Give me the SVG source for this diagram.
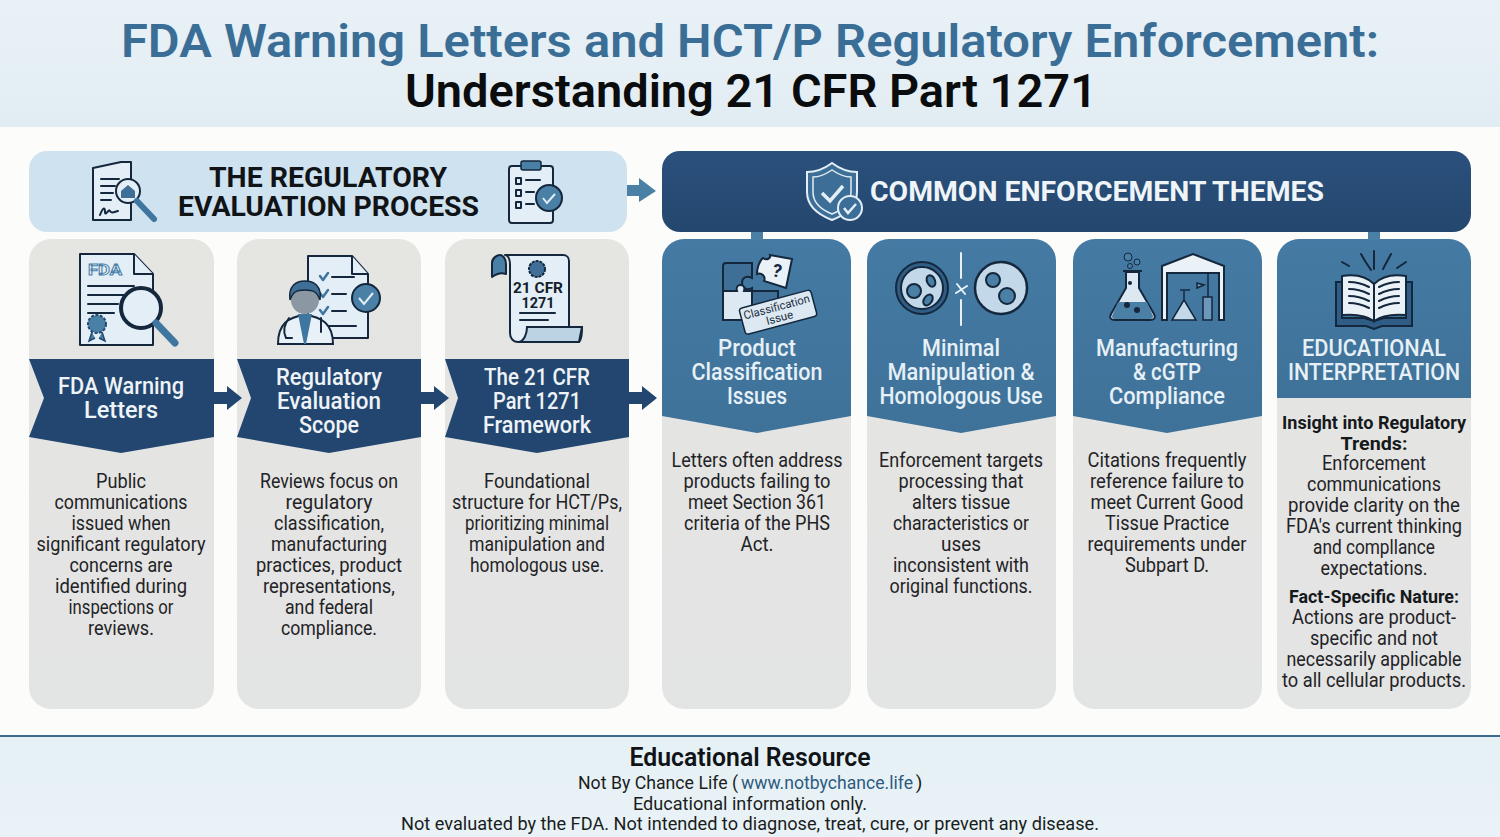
<svg xmlns="http://www.w3.org/2000/svg" width="1500" height="837" viewBox="0 0 1500 837">
<style>
text{font-family:"Roboto","Noto Sans","Liberation Sans",sans-serif;text-anchor:middle}
.body{font-size:20px;fill:#1f2326}
.bold{font-size:19px;font-weight:700;fill:#16191c}
.rib{font-size:23px;font-weight:500;fill:#eef3f7}
.tit{font-size:23px;font-weight:500;fill:#e6f0f6}
.hd{font-size:27px;font-weight:700}
.foot{font-size:19px;fill:#1a1d20}
.card{fill:url(#cardG)}
.ln{fill:none;stroke:#14273c;stroke-width:2;stroke-linecap:round;stroke-linejoin:round}
.lw{fill:none;stroke:#e8f1f7;stroke-width:2;stroke-linecap:round;stroke-linejoin:round}
.pale{fill:#e3eef6;stroke:#14273c;stroke-width:2;stroke-linejoin:round}
.mid{fill:#4a7fa6;stroke:#14273c;stroke-width:2;stroke-linejoin:round}
.ck{fill:none;stroke:#3f769f;stroke-width:2.5;stroke-linecap:round;stroke-linejoin:round}
</style>
<defs>
<linearGradient id="topG" x1="0" y1="0" x2="0" y2="1"><stop offset="0" stop-color="#e8f1f6"/><stop offset="1" stop-color="#e2edf3"/></linearGradient>
<linearGradient id="cardG" x1="0" y1="0" x2="0" y2="1"><stop offset="0" stop-color="#e5e5e2"/><stop offset="1" stop-color="#e3e4e4"/></linearGradient>
<linearGradient id="navyG" x1="0" y1="0" x2="0" y2="1"><stop offset="0" stop-color="#2a507c"/><stop offset="1" stop-color="#24476e"/></linearGradient>
<linearGradient id="blueG" x1="0" y1="0" x2="0" y2="1"><stop offset="0" stop-color="#447aa3"/><stop offset="1" stop-color="#3f7299"/></linearGradient>
<linearGradient id="footG" x1="0" y1="0" x2="0" y2="1"><stop offset="0" stop-color="#e6f1f5"/><stop offset="1" stop-color="#e9f2f6"/></linearGradient>
</defs>
<rect width="1500" height="837" fill="#fcfcfb"/>
<g id="title">
<rect width="1500" height="127" fill="url(#topG)"/>
<text x="750" y="57" font-size="46" font-weight="600" fill="#3b6e96" textLength="1258" lengthAdjust="spacingAndGlyphs">FDA Warning Letters and HCT/P Regulatory Enforcement:</text>
<text x="751" y="107" font-size="46" font-weight="600" fill="#0b0c0e" textLength="692" lengthAdjust="spacingAndGlyphs">Understanding 21 CFR Part 1271</text>
</g>
<g id="header-process">
<rect x="29" y="151" width="598" height="81" rx="18" fill="#cfe2f0"/>
<text x="328" y="187" class="hd" fill="#111417" textLength="238" lengthAdjust="spacingAndGlyphs">THE REGULATORY</text>
<text x="328.500" y="216" class="hd" fill="#111417" textLength="301" lengthAdjust="spacingAndGlyphs">EVALUATION PROCESS</text>
<path class="pale" d="M93 168l28-6h10l0 58H93z"/>
<path class="ln" d="M101 179h18M101 186h14M101 193h12M101 200h10M100 215c3-8 5-8 5-3s4-4 5-1 4 1 8 0"/>
<circle class="pale" cx="128" cy="191" r="12" stroke-width="3"/>
<path d="M121 191l7-6 7 6v7h-14z" fill="#3f6f96"/>
<path d="M137 201l17 18" stroke="#3f769f" stroke-width="6" stroke-linecap="round"/>
<rect class="pale" x="509" y="166" width="44" height="57" rx="3"/>
<rect x="521" y="161" width="20" height="9" rx="2" fill="#4a7fa6" stroke="#14273c" stroke-width="1.500"/>
<path class="ln" d="M516 178h5v6h-5zM516 190h5v6h-5zM516 202h5v6h-5zM526 180h14M526 192h8M526 204h8"/>
<circle class="mid" cx="549" cy="198" r="13"/>
<path d="M543 198l4 5 8-9" fill="none" stroke="#e3eef6" stroke-width="2"/>
</g>
<g id="header-themes">
<rect x="662" y="151" width="809" height="81" rx="18" fill="url(#navyG)"/>
<path d="M832 163c8 6 17 9 25 9v20c0 14-12 23-25 28-13-5-25-14-25-28v-20c8 0 17-3 25-9z" fill="#3d6e97" stroke="#e3eef6" stroke-width="2"/>
<path d="M832 170c6 4 13 7 19 7v15c0 11-9 18-19 22-10-4-19-11-19-22v-15c6 0 13-3 19-7z" fill="none" stroke="#e3eef6" stroke-width="1.500"/>
<path d="M822 193l8 8 13-15" fill="none" stroke="#e3eef6" stroke-width="3.500"/>
<circle cx="850" cy="208" r="12" fill="#3d6e97" stroke="#e3eef6" stroke-width="2"/>
<path d="M844 208l4 5 8-9" fill="none" stroke="#e3eef6" stroke-width="2.500"/>
<text x="1097" y="201" class="hd" fill="#eef4f8" textLength="454" lengthAdjust="spacingAndGlyphs">COMMON ENFORCEMENT THEMES</text>
</g>
<g id="card-fda-warning-letters">
<rect class="card" x="29" y="239" width="185" height="470" rx="22"/>
<path d="M29 359H214V437L121 453 29 437 44 398z" fill="#22466f"/>
<path class="pale" d="M80 254h54l19 20v71H80z"/>
<path class="pale" d="M134 254v20h19" fill="#9dbdd5"/>
<text x="105" y="275" font-size="15" font-weight="700" fill="#eef5fa" stroke="#4a7fa6" stroke-width=".9" textLength="34" lengthAdjust="spacingAndGlyphs">FDA</text>
<path class="ln" d="M88 286h46M88 295h40M88 304h30M88 313h26"/>
<circle cx="97" cy="324" r="9" fill="#4a7fa6" stroke="#234a72" stroke-width="2" stroke-dasharray="3 1.500"/>
<path d="M92 332l-3 9 6-3M102 332l3 9-6-3" fill="#4a7fa6" stroke="#234a72" stroke-width="1.500"/>
<circle cx="141" cy="308" r="20" fill="#e3eef6" stroke="#14273c" stroke-width="4"/>
<path d="M156 323l19 20" stroke="#3f769f" stroke-width="7" stroke-linecap="round"/>
<text x="121" y="394" class="rib" textLength="126" lengthAdjust="spacingAndGlyphs">FDA Warning</text>
<text x="121" y="418" class="rib" textLength="74" lengthAdjust="spacingAndGlyphs">Letters</text>
<text x="121" y="488" class="body" textLength="50" lengthAdjust="spacingAndGlyphs">Public</text>
<text x="121" y="509" class="body" textLength="133" lengthAdjust="spacingAndGlyphs">communications</text>
<text x="121" y="530" class="body" textLength="99" lengthAdjust="spacingAndGlyphs">issued when</text>
<text x="121" y="551" class="body" textLength="169" lengthAdjust="spacingAndGlyphs">significant regulatory</text>
<text x="121" y="572" class="body" textLength="103" lengthAdjust="spacingAndGlyphs">concerns are</text>
<text x="121" y="593" class="body" textLength="132" lengthAdjust="spacingAndGlyphs">identified during</text>
<text x="121" y="614" class="body" textLength="105" lengthAdjust="spacingAndGlyphs">inspections or</text>
<text x="121" y="635" class="body" textLength="66" lengthAdjust="spacingAndGlyphs">reviews.</text>
</g>
<g id="card-regulatory-evaluation-scope">
<rect class="card" x="237" y="239" width="184" height="470" rx="22"/>
<path d="M237 359H421V437L329 453 237 437 251 398z" fill="#22466f"/>
<path class="pale" d="M308 256h44l16 18v64h-60z"/>
<path class="pale" d="M352 256v18h16" fill="#9dbdd5"/>
<path class="ck" d="M320 276l3 4 5-7M320 293l3 4 5-7M320 310l3 4 5-7"/>
<path class="ln" d="M332 277h22M332 294h14M332 311h14M318 326h38"/>
<circle class="mid" cx="366" cy="298" r="14"/>
<path d="M359 298l5 6 9-11" fill="none" stroke="#e3eef6" stroke-width="2"/>
<path d="M278 344c0-20 10-27 27-29 17 2 28 9 28 29z" fill="#e8f1f7" stroke="#14273c" stroke-width="2"/>
<path d="M298 314l6 30h2l6-30z" fill="#3f769f"/>
<circle cx="305" cy="300" r="14" fill="#8b97a3"/>
<path d="M290 300c-2-14 6-19 15-19s17 5 15 19c-3-8-6-10-15-10s-12 2-15 10z" fill="#3f6f96" stroke="#14273c" stroke-width="1.500"/>
<path class="ln" d="M289 318c-6 8-6 14-3 20h6M321 318v14" stroke-width="1.500"/>
<text x="329" y="385" class="rib" textLength="106" lengthAdjust="spacingAndGlyphs">Regulatory</text>
<text x="329" y="409" class="rib" textLength="104" lengthAdjust="spacingAndGlyphs">Evaluation</text>
<text x="329" y="433" class="rib" textLength="60" lengthAdjust="spacingAndGlyphs">Scope</text>
<text x="329" y="488" class="body" textLength="138" lengthAdjust="spacingAndGlyphs">Reviews focus on</text>
<text x="329" y="509" class="body" textLength="87" lengthAdjust="spacingAndGlyphs">regulatory</text>
<text x="329" y="530" class="body" textLength="110" lengthAdjust="spacingAndGlyphs">classification,</text>
<text x="329" y="551" class="body" textLength="116" lengthAdjust="spacingAndGlyphs">manufacturing</text>
<text x="329" y="572" class="body" textLength="146" lengthAdjust="spacingAndGlyphs">practices, product</text>
<text x="329" y="593" class="body" textLength="132" lengthAdjust="spacingAndGlyphs">representations,</text>
<text x="329" y="614" class="body" textLength="88" lengthAdjust="spacingAndGlyphs">and federal</text>
<text x="329" y="635" class="body" textLength="96" lengthAdjust="spacingAndGlyphs">compliance.</text>
</g>
<g id="card-21-cfr-part-1271-framework">
<rect class="card" x="445" y="239" width="184" height="470" rx="22"/>
<path d="M445 359H629V437L537 453 445 437 458 398z" fill="#22466f"/>
<path class="pale" d="M505 255h58c4 0 6 3 6 6v66h13c0 6-1 15-4 15h-60c-5 0-8-4-8-9V264c0-5-2-9-5-9z"/>
<path class="mid" d="M492 277v-14c0-5 5-8 8-8s6 4 6 9v10c-5-2-10 0-14 3z"/>
<path d="M569 327h13l-3 15h-60c5-1 8-8 8-15z" fill="#bcd3e4" stroke="#14273c" stroke-width="2"/>
<circle cx="537" cy="269" r="8" fill="#3f6f96" stroke="#14273c" stroke-width="2" stroke-dasharray="3 1"/>
<text x="538" y="293" font-size="15" font-weight="700" fill="#14202c" textLength="50" lengthAdjust="spacingAndGlyphs">21 CFR</text>
<text x="538" y="308" font-size="15" font-weight="700" fill="#14202c" textLength="33" lengthAdjust="spacingAndGlyphs">1271</text>
<path class="ln" d="M520 313h35M520 320h28" stroke-width="1.500"/>
<text x="537" y="385" class="rib" textLength="106" lengthAdjust="spacingAndGlyphs">The 21 CFR</text>
<text x="537" y="409" class="rib" textLength="88" lengthAdjust="spacingAndGlyphs">Part 1271</text>
<text x="537" y="433" class="rib" textLength="108" lengthAdjust="spacingAndGlyphs">Framework</text>
<text x="537" y="488" class="body" textLength="106" lengthAdjust="spacingAndGlyphs">Foundational</text>
<text x="537" y="509" class="body" textLength="170" lengthAdjust="spacingAndGlyphs">structure for HCT/Ps,</text>
<text x="537" y="530" class="body" textLength="144" lengthAdjust="spacingAndGlyphs">prioritizing minimal</text>
<text x="537" y="551" class="body" textLength="136" lengthAdjust="spacingAndGlyphs">manipulation and</text>
<text x="537" y="572" class="body" textLength="134" lengthAdjust="spacingAndGlyphs">homologous use.</text>
</g>
<g id="card-product-classification-issues">
<rect class="card" x="662" y="239" width="189" height="470" rx="22"/>
<path d="M662 261a22 22 0 0 1 22-22H829a22 22 0 0 1 22 22V416L757 433 662 416z" fill="url(#blueG)"/>
<path d="M723 266a3 3 0 0 1 3-3h26v15c-6-3-10 0-10 5s5 8 10 5v3h-29z" fill="#3f6f96" stroke="#14273c" stroke-width="2"/>
<path d="M723 291h14c-3-8 10-8 7 0h12v29h-33z" fill="#dce9f3" stroke="#14273c" stroke-width="2"/>
<path d="M752 291h26v20h-26z" fill="#3f6f96" stroke="#14273c" stroke-width="2"/>
<path d="M763 258c4 3 8 0 7-3l22 4-6 29-22-7c2-4-2-9-7-7 0-5 2-13 6-16z" fill="#eaf2f7" stroke="#14273c" stroke-width="2"/>
<text x="776" y="277" font-size="18" font-weight="700" fill="#14273c" transform="rotate(12 776 277)">?</text>
<g transform="rotate(-15 777 312)"><rect x="741" y="299" width="74" height="27" rx="3" fill="#dce9f3" stroke="#14273c" stroke-width="1.500"/>
<text x="778" y="311" font-size="11.500" fill="#1e2e3e" textLength="68" lengthAdjust="spacingAndGlyphs">Classification</text>
<text x="778" y="322" font-size="11.500" fill="#1e2e3e">Issue</text></g>
<text x="757" y="356" class="tit" textLength="78" lengthAdjust="spacingAndGlyphs">Product</text>
<text x="757" y="380" class="tit" textLength="131" lengthAdjust="spacingAndGlyphs">Classification</text>
<text x="757" y="404" class="tit" textLength="60" lengthAdjust="spacingAndGlyphs">Issues</text>
<text x="757" y="467" class="body" textLength="171" lengthAdjust="spacingAndGlyphs">Letters often address</text>
<text x="757" y="488" class="body" textLength="147" lengthAdjust="spacingAndGlyphs">products failing to</text>
<text x="757" y="509" class="body" textLength="138" lengthAdjust="spacingAndGlyphs">meet Section 361</text>
<text x="757" y="530" class="body" textLength="146" lengthAdjust="spacingAndGlyphs">criteria of the PHS</text>
<text x="757" y="551" class="body" textLength="33" lengthAdjust="spacingAndGlyphs">Act.</text>
</g>
<g id="card-minimal-manipulation">
<rect class="card" x="867" y="239" width="189" height="470" rx="22"/>
<path d="M867 261a22 22 0 0 1 22-22H1034a22 22 0 0 1 22 22V416L961 433 867 416z" fill="url(#blueG)"/>
<circle cx="922" cy="288" r="26" fill="#2f5d85" stroke="#14273c" stroke-width="2"/>
<circle cx="922" cy="288" r="21" fill="#c3d9e9" stroke="#14273c" stroke-width="2"/>
<circle cx="914" cy="291" r="7" fill="#4a7fa6" stroke="#14273c" stroke-width="2"/>
<ellipse cx="931" cy="281" rx="4" ry="6" fill="#4a7fa6" stroke="#14273c" stroke-width="2" transform="rotate(-25 931 281)"/>
<ellipse cx="928" cy="300" rx="4" ry="6" fill="#4a7fa6" stroke="#14273c" stroke-width="2" transform="rotate(35 928 300)"/>
<circle cx="1001" cy="288" r="26" fill="#c3d9e9" stroke="#14273c" stroke-width="2.500"/>
<circle cx="993" cy="280" r="7" fill="#4a7fa6" stroke="#14273c" stroke-width="2"/>
<circle cx="1007" cy="296" r="8" fill="#4a7fa6" stroke="#14273c" stroke-width="2"/>
<path class="lw" d="M961 253v25M961 300v25M956 293l11-7M957 284l8 10"/>
<text x="961" y="356" class="tit" textLength="78" lengthAdjust="spacingAndGlyphs">Minimal</text>
<text x="961" y="380" class="tit" textLength="147" lengthAdjust="spacingAndGlyphs">Manipulation &amp;</text>
<text x="961" y="404" class="tit" textLength="163" lengthAdjust="spacingAndGlyphs">Homologous Use</text>
<text x="961" y="467" class="body" textLength="164" lengthAdjust="spacingAndGlyphs">Enforcement targets</text>
<text x="961" y="488" class="body" textLength="125" lengthAdjust="spacingAndGlyphs">processing that</text>
<text x="961" y="509" class="body" textLength="98" lengthAdjust="spacingAndGlyphs">alters tissue</text>
<text x="961" y="530" class="body" textLength="136" lengthAdjust="spacingAndGlyphs">characteristics or</text>
<text x="961" y="551" class="body" textLength="40" lengthAdjust="spacingAndGlyphs">uses</text>
<text x="961" y="572" class="body" textLength="136" lengthAdjust="spacingAndGlyphs">inconsistent with</text>
<text x="961" y="593" class="body" textLength="143" lengthAdjust="spacingAndGlyphs">original functions.</text>
</g>
<g id="card-manufacturing-cgtp">
<rect class="card" x="1073" y="239" width="189" height="470" rx="22"/>
<path d="M1073 261a22 22 0 0 1 22-22H1240a22 22 0 0 1 22 22V416L1167 433 1073 416z" fill="url(#blueG)"/>
<path d="M1123 271h19M1126 272v16l-15 26c-2 4 0 6 4 6h35c4 0 6-2 4-6l-15-26v-16z" fill="#dce9f3" stroke="#14273c" stroke-width="2"/>
<path d="M1118 302h29l6 14c0 2-1 3-3 3h-35c-2 0-3-1-3-3z" fill="#4a7fa6"/>
<circle cx="1127" cy="305" r="3" fill="#14273c"/><circle cx="1137" cy="310" r="3" fill="#14273c"/><circle cx="1130" cy="283" r="2" fill="#14273c"/>
<circle cx="1128" cy="257" r="4" fill="#4a7fa6" stroke="#14273c"/><circle cx="1137" cy="262" r="3" fill="#4a7fa6" stroke="#14273c"/><circle cx="1130" cy="266" r="2.500" fill="#4a7fa6" stroke="#14273c"/>
<path d="M1162 320v-54l31-12 31 12v54h-5v-47h-52v47z" fill="#eaf2f7" stroke="#14273c" stroke-width="2"/>
<path d="M1180 290h10M1184 291v9l-12 20h24l-12-20v-9z" fill="#c3d9e9" stroke="#14273c" stroke-width="1.500"/>
<path d="M1203 297h9v23h-9zM1208 272v25M1197 283l7 2-7 3z" fill="#6c99bb" stroke="#14273c" stroke-width="1.500"/>
<text x="1167" y="356" class="tit" textLength="142" lengthAdjust="spacingAndGlyphs">Manufacturing</text>
<text x="1167" y="380" class="tit" textLength="68" lengthAdjust="spacingAndGlyphs">&amp; cGTP</text>
<text x="1167" y="404" class="tit" textLength="116" lengthAdjust="spacingAndGlyphs">Compliance</text>
<text x="1167" y="467" class="body" textLength="159" lengthAdjust="spacingAndGlyphs">Citations frequently</text>
<text x="1167" y="488" class="body" textLength="154" lengthAdjust="spacingAndGlyphs">reference failure to</text>
<text x="1167" y="509" class="body" textLength="153" lengthAdjust="spacingAndGlyphs">meet Current Good</text>
<text x="1167" y="530" class="body" textLength="124" lengthAdjust="spacingAndGlyphs">Tissue Practice</text>
<text x="1167" y="551" class="body" textLength="159" lengthAdjust="spacingAndGlyphs">requirements under</text>
<text x="1167" y="572" class="body" textLength="84" lengthAdjust="spacingAndGlyphs">Subpart D.</text>
</g>
<g id="card-educational-interpretation">
<rect class="card" x="1277" y="239" width="194" height="470" rx="22"/>
<path d="M1277 261a22 22 0 0 1 22-22H1449a22 22 0 0 1 22 22V398H1277z" fill="url(#blueG)"/>
<path d="M1336 282h6v36h22l10 3 10-3h22v-36h6v44h-30l-8 3-8-3h-30z" fill="#2f5d85" stroke="#14273c" stroke-width="2"/>
<path d="M1342 276c12-2 24 0 32 8v37c-8-6-20-7-32-6z" fill="#eaf2f7" stroke="#14273c" stroke-width="2"/>
<path d="M1406 276c-12-2-24 0-32 8v37c8-6 20-7 32-6z" fill="#eaf2f7" stroke="#14273c" stroke-width="2"/>
<path class="ln" d="M1349 282c7 0 14 2 20 5M1349 289c7 0 14 2 20 5M1349 296c7 0 14 2 20 5M1349 303c7 0 14 2 20 5M1399 282c-7 0-14 2-20 5M1399 289c-7 0-14 2-20 5M1399 296c-7 0-14 2-20 5M1399 303c-7 0-14 2-20 5"/>
<path class="ln" d="M1374 251v18M1361 254l4 7M1365 261l6 9M1391 254l-8 15M1342 262l7 4M1406 262l-9 6" stroke-width="1.800"/>
<text x="1374" y="356" class="tit" textLength="144" lengthAdjust="spacingAndGlyphs">EDUCATIONAL</text>
<text x="1374" y="380" class="tit" textLength="172" lengthAdjust="spacingAndGlyphs">INTERPRETATION</text>
<text x="1374" y="429" class="bold" textLength="184" lengthAdjust="spacingAndGlyphs">Insight into Regulatory</text>
<text x="1374" y="449.500" class="bold" textLength="67" lengthAdjust="spacingAndGlyphs">Trends:</text>
<text x="1374" y="470" class="body" textLength="104" lengthAdjust="spacingAndGlyphs">Enforcement</text>
<text x="1374" y="491" class="body" textLength="134" lengthAdjust="spacingAndGlyphs">communications</text>
<text x="1374" y="512" class="body" textLength="172" lengthAdjust="spacingAndGlyphs">provide clarity on the</text>
<text x="1374" y="533" class="body" textLength="176" lengthAdjust="spacingAndGlyphs">FDA's current thinking</text>
<text x="1374" y="554" class="body" textLength="122" lengthAdjust="spacingAndGlyphs">and compllance</text>
<text x="1374" y="575" class="body" textLength="107" lengthAdjust="spacingAndGlyphs">expectations.</text>
<text x="1374" y="603" class="bold" textLength="170" lengthAdjust="spacingAndGlyphs">Fact-Specific Nature:</text>
<text x="1374" y="624" class="body" textLength="164" lengthAdjust="spacingAndGlyphs">Actions are product-</text>
<text x="1374" y="645" class="body" textLength="128" lengthAdjust="spacingAndGlyphs">specific and not</text>
<text x="1374" y="666" class="body" textLength="175" lengthAdjust="spacingAndGlyphs">necessarily applicable</text>
<text x="1374" y="687" class="body" textLength="184" lengthAdjust="spacingAndGlyphs">to all cellular products.</text>
</g>
<g id="connectors">
<path d="M627 185h12v-7l17 13-17 11v-6h-12z" fill="#4a80a6"/>
<path d="M214 392h13v-6l15 12-15 12v-6h-13z" fill="#22466f"/>
<path d="M421 392h13v-6l15 12-15 12v-6h-13z" fill="#22466f"/>
<path d="M629 392h13v-6l15 12-15 12v-6h-13z" fill="#22466f"/>
<rect x="751" y="232" width="12" height="8" fill="#4a80a6"/>
<rect x="1368" y="232" width="12" height="8" fill="#4a80a6"/>
</g>
<g id="footer">
<rect y="736" width="1500" height="101" fill="url(#footG)"/>
<rect y="735" width="1500" height="2" fill="#3f6a90"/>
<text x="750" y="766" font-size="25" font-weight="600" fill="#111417" textLength="241" lengthAdjust="spacingAndGlyphs">Educational Resource</text>
<text x="658" y="789" class="foot" textLength="160" lengthAdjust="spacingAndGlyphs">Not By Chance Life (</text>
<text x="827" y="789" class="foot" style="fill:#2d5b80" textLength="172" lengthAdjust="spacingAndGlyphs">www.notbychance.life</text>
<text x="919" y="789" class="foot">)</text>
<text x="750" y="810" class="foot" textLength="234" lengthAdjust="spacingAndGlyphs">Educational information only.</text>
<text x="750" y="830" class="foot" textLength="698" lengthAdjust="spacingAndGlyphs">Not evaluated by the FDA. Not intended to diagnose, treat, cure, or prevent any disease.</text>
</g>
</svg>
